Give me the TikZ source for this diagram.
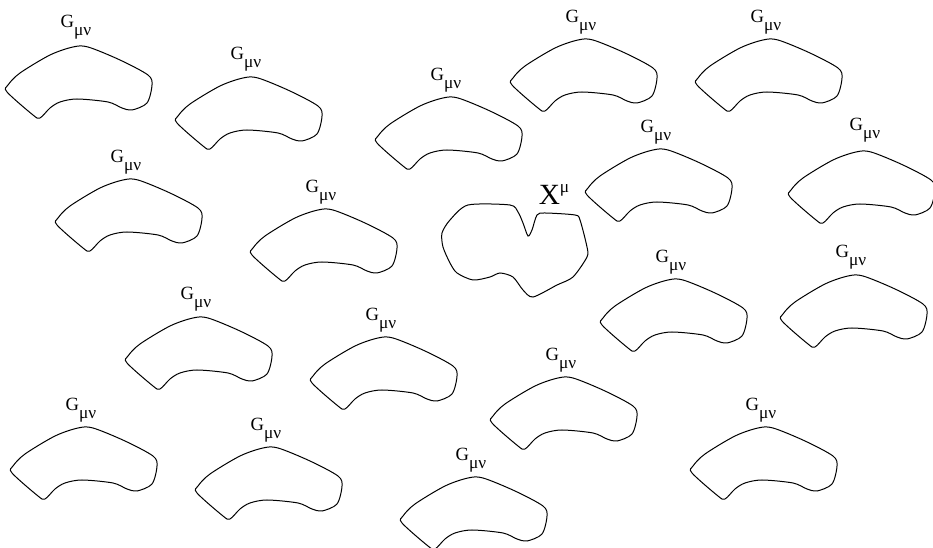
\documentclass[tikz,border=0pt]{standalone}
\usepackage{fontspec}
\setmainfont{Liberation Serif}
\tikzset{every picture/.style={line width=0.75pt}}
\tikzset{
  glabel/.style={inner sep=1pt, font=\fontsize{14}{16}\selectfont}
}
\newcommand{\gblob}[1]{\draw[shift={#1}] plot[smooth cycle, tension=0.5] coordinates {(-7,0) (8,0) (40,13) (68,28) (72,38) (67,56) (52,63) (42,61) (28,55) (-3,52) (-20,55) (-30,61) (-40,71) (-47,68) (-73,45) (-72,38) (-60,26) (-30,8)};}
\newcommand{\Gmn}{G\raisebox{-6pt}{\fontsize{13}{14}\selectfont μν}}

\begin{document}
\begin{tikzpicture}[x=0.75pt,y=0.75pt,yscale=-1,xscale=1]
\useasboundingbox (0,0) rectangle (933,548);

%Shapes: G blobs
\gblob{(80,47)}
\gblob{(250,78)}
\gblob{(450,98)}
\gblob{(585,40)}
\gblob{(770,40)}
\gblob{(130,180)}
\gblob{(325,210)}
\gblob{(660,150)}
\gblob{(863,152)}
\gblob{(675,280)}
\gblob{(855,276)}
\gblob{(200,318)}
\gblob{(385,338)}
\gblob{(565,378)}
\gblob{(85,428)}
\gblob{(270,448)}
\gblob{(475,478)}
\gblob{(765,428)}

%Shape: X blob
\draw plot[smooth cycle, tension=0.45] coordinates {(468,205) (510,205) (518,212) (523,223) (528,236) (532,230) (537,215) (545,213) (575,215) (580,220) (587,247) (587,257) (573,277) (557,285) (533,297) (523,290) (513,277) (500,273) (490,277) (473,280) (457,273) (450,263) (443,247) (442,233) (450,220)};

% Text Nodes
\node[glabel] (g1) at (76,27) {\Gmn};
\node[glabel] (g2) at (246,59) {\Gmn};
\node[glabel] (g3) at (446,80) {\Gmn};
\node[glabel] (g4) at (581,22) {\Gmn};
\node[glabel] (g5) at (766,22) {\Gmn};
\node[glabel] (g6) at (126,162) {\Gmn};
\node[glabel] (g7) at (321,192) {\Gmn};
\node[glabel] (g8) at (656,132) {\Gmn};
\node[glabel] (g9) at (865,130) {\Gmn};
\node[glabel] (g10) at (671,262) {\Gmn};
\node[glabel] (g11) at (851,257) {\Gmn};
\node[glabel] (g12) at (196,299) {\Gmn};
\node[glabel] (g13) at (381,320) {\Gmn};
\node[glabel] (g14) at (561,360) {\Gmn};
\node[glabel] (g15) at (81,410) {\Gmn};
\node[glabel] (g16) at (266,430) {\Gmn};
\node[glabel] (g17) at (471,460) {\Gmn};
\node[glabel] (g18) at (761,410) {\Gmn};
\node[glabel, font=\fontsize{22}{24}\selectfont] (x) at (554,195) {X\raisebox{9pt}{\fontsize{13}{14}\selectfont μ}};

\end{tikzpicture}
\end{document}
